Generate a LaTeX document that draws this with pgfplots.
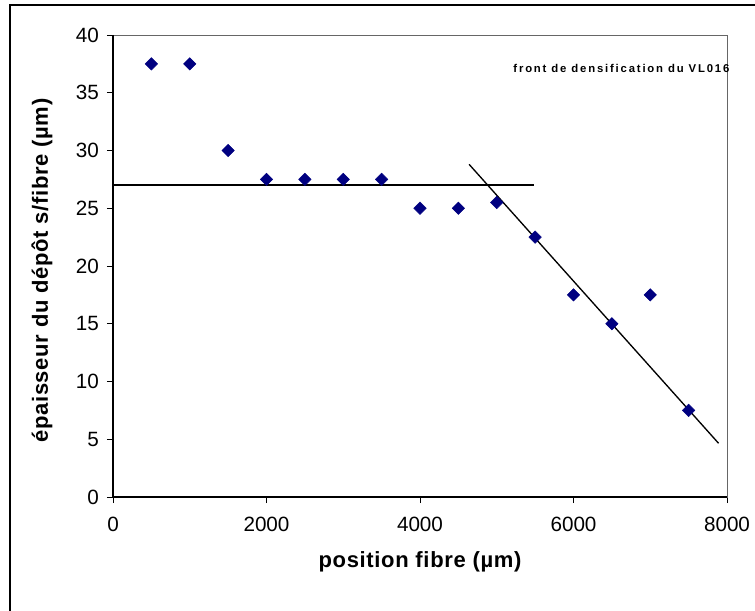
\documentclass[border=0pt]{standalone}
\usepackage{pgfplots}
\pgfplotsset{compat=1.18}
\usepackage{fontspec}
\setmainfont{Liberation Sans}
\definecolor{navyx}{RGB}{0,0,128}
\begin{document}
\begin{tikzpicture}
\useasboundingbox (0,0) rectangle (566.25pt,457.5pt);
\draw[line width=2pt] (7.5pt,-2pt) -- (7.5pt,453.75pt) -- (570pt,453.75pt);
\begin{axis}[
  at={(84.75pt,84.75pt)}, anchor=south west,
  scale only axis, width=460.5pt, height=346.5pt,
  xmin=0, xmax=8000, ymin=0, ymax=40,
  xtick={0,2000,4000,6000,8000},
  ytick={0,5,10,15,20,25,30,35,40},
  tick align=outside, xtick pos=left, ytick pos=left,
  major tick length=4.5pt,
  axis line style={draw=gray!80!black, line width=0.6pt},
  tick style={black, line width=0.6pt},
  ticklabel style={font=\fontsize{15.5}{15.5}\selectfont},
  xticklabel style={yshift=-7pt},
  yticklabel style={xshift=-2.5pt},
  /pgf/number format/assume math mode=true,
  scaled x ticks=false,
  /pgf/number format/set thousands separator={},
  xlabel={position fibre (µm)},
  ylabel={épaisseur du dépôt s/fibre (µm)},
  label style={font=\bfseries\fontsize{16.5}{16.5}\selectfont\addfontfeatures{LetterSpace=3}},
  xlabel style={at={(axis description cs:0.5,-0.1407)}, anchor=center},
  ylabel style={at={(axis description cs:-0.1156,0.49)}, anchor=center},
  clip=false,
]
\addplot[only marks, mark=square*, mark size=3.3pt, mark options={rotate=45, fill=navyx, draw=navyx}]
  coordinates {(500,37.5) (1000,37.5) (1500,30) (2000,27.5) (2500,27.5) (3000,27.5) (3500,27.5)
  (4000,25) (4500,25) (5000,25.5) (5500,22.5) (6000,17.5) (6500,15) (7000,17.5) (7500,7.5)};
\addplot[black, line width=1pt, no marks] coordinates {(0,27) (5480,27)};
\addplot[black, line width=1pt, no marks] coordinates {(4640,28.8) (7890,4.65)};
\draw[black, line width=0.8pt] (rel axis cs:0,1) -- (rel axis cs:0,0) -- (rel axis cs:1,0);
\node[font=\bfseries\fontsize{8.5}{8.5}\selectfont\addfontfeatures{LetterSpace=16}] at (axis description cs:0.828,0.9286) {front de densification du VL016};
\end{axis}
\end{tikzpicture}
\end{document}
